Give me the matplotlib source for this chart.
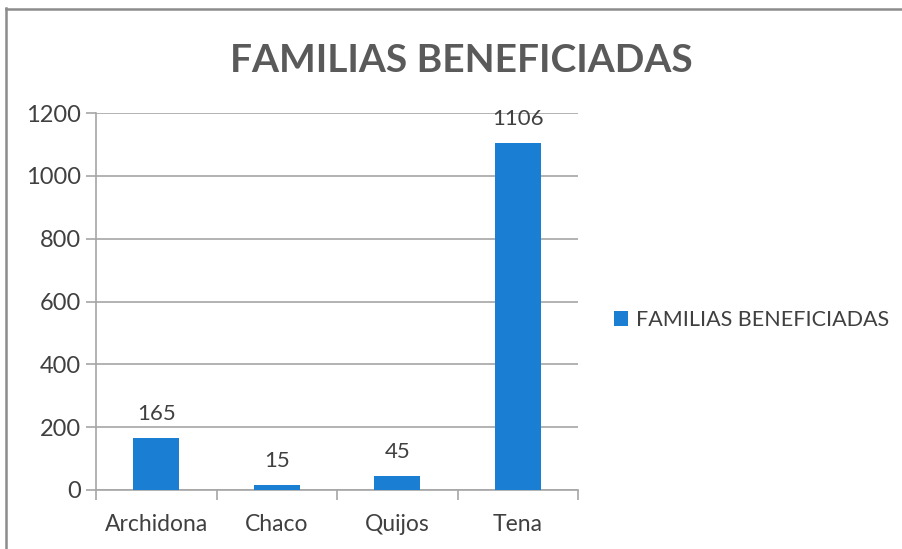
import matplotlib
matplotlib.use("Agg")
import matplotlib.pyplot as plt
from matplotlib.lines import Line2D
import numpy as np

categories = ["Archidona", "Chaco", "Quijos", "Tena"]
values = [165, 15, 45, 1106]
series_name = "FAMILIAS BENEFICIADAS"
yticks = [0, 200, 400, 600, 800, 1000, 1200]

plt.rcParams['font.family'] = ['Lato', 'DejaVu Sans']

bar_color = "#1a7ed2"
text_color = "#404040"
grid_color = "#a6a6a6"

fig = plt.figure(figsize=(9.02, 5.49), dpi=100)
fig.patch.set_facecolor("white")
ax = fig.add_axes([96 / 902, 59 / 549, (578 - 96) / 902, (436 - 59) / 549])

x = np.arange(len(categories))
bars = ax.bar(x, values, width=0.38, color=bar_color, zorder=3, label=series_name)

ax.set_xlim(-0.5, len(categories) - 0.5)
ax.set_ylim(0, 1200)
ax.set_yticks(yticks)
ax.set_yticklabels([str(t) for t in yticks])
ax.yaxis.grid(True, color=grid_color, linewidth=1.2, zorder=0)
ax.set_axisbelow(True)

# category labels centred, tick marks at category boundaries
ax.set_xticks(x)
ax.set_xticklabels(categories)
ax.tick_params(axis='x', length=0, pad=17, labelsize=16.5, labelcolor=text_color)
ax.set_xticks(np.arange(len(categories) + 1) - 0.5, minor=True)
ax.tick_params(axis='x', which='minor', length=7, color=grid_color, width=1.2)
ax.tick_params(axis='y', length=7, color=grid_color, width=1.2, labelsize=17,
               labelcolor=text_color, pad=4)

for s in ["top", "right"]:
    ax.spines[s].set_visible(False)
for s in ["left", "bottom"]:
    ax.spines[s].set_color(grid_color)
    ax.spines[s].set_linewidth(1.2)

for rect, v in zip(bars, values):
    ax.annotate(str(v), (rect.get_x() + rect.get_width() / 2, v),
                xytext=(0, 10), textcoords="offset points",
                ha="center", va="bottom", fontsize=16, color=text_color)

fig.text(0.511, 0.89, series_name, ha="center", va="center",
         fontsize=28, fontweight="bold", color="#5a5a5a")

leg = fig.legend(handles=[bars], labels=[series_name], loc="center left",
                 bbox_to_anchor=(595 / 902, 1 - 320 / 549), frameon=False,
                 fontsize=15.5, handlelength=0.65, handleheight=0.65,
                 handletextpad=0.35, labelcolor=text_color)

# frame edges along the left and top of the chart
fig.add_artist(Line2D([6 / 902, 6 / 902], [0, 1 - 8 / 549],
                      transform=fig.transFigure, color="#8c8c8c", linewidth=1.8))
fig.add_artist(Line2D([6 / 902, 1], [1 - 9 / 549, 1 - 9 / 549],
                      transform=fig.transFigure, color="#8c8c8c", linewidth=1.8))

fig.savefig("out.png", dpi=100)
